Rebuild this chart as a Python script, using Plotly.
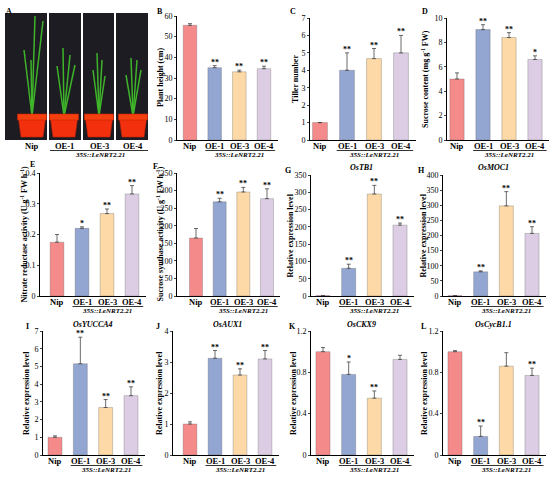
import plotly.graph_objects as go

W, H = 550, 477
FONT = "Liberation Serif"

genotypes = ["Nip", "OE-1", "OE-3", "OE-4"]
colors = ["#F58A8B", "#93A6D2", "#FCD9A6", "#DCCDE4"]
line_label = "<i>35S::LeNRT2.21</i>"

plant_height = [55.5, 35.0, 33.0, 34.5]
plant_height_err = [0.8, 1.0, 0.8, 1.2]
plant_height_sig = ["", "**", "**", "**"]

tiller = [1.0, 4.0, 4.67, 5.0]
tiller_err = [0.0, 1.0, 0.58, 1.0]
tiller_sig = ["", "**", "**", "**"]

sucrose = [5.0, 9.05, 8.4, 6.6]
sucrose_err = [0.5, 0.4, 0.4, 0.3]
sucrose_sig = ["", "**", "**", "*"]

nr_activity = [0.175, 0.22, 0.268, 0.332]
nr_activity_err = [0.025, 0.005, 0.015, 0.027]
nr_activity_sig = ["", "*", "**", "**"]

ss_activity = [165, 268, 296, 277]
ss_activity_err = [27, 10, 13, 28]
ss_activity_sig = ["", "**", "**", "**"]

ostb1 = [1, 80, 295, 205]
ostb1_err = [0.1, 12, 25, 6]
osmoc1 = [1, 80, 298, 207]
osmoc1_err = [0.1, 3, 47, 22]
osyucca4 = [1, 5.15, 2.68, 3.35]
osyucca4_err = [0.08, 1.5, 0.45, 0.5]
osaux1 = [1, 3.12, 2.58, 3.1]
osaux1_err = [0.07, 0.25, 0.2, 0.27]
osckx9 = [1, 0.78, 0.55, 0.925]
osckx9_err = [0.04, 0.12, 0.07, 0.04]
osckx9_sig = ["", "*", "**", ""]
oscycb = [1, 0.18, 0.86, 0.77]
oscycb_err = [0.01, 0.1, 0.13, 0.07]
oscycb_sig = ["", "**", "", "**"]
all_sig = ["", "**", "**", "**"]

SUP = "<sup>-1</sup>"
# letter, values, err, sig, ymax, dtick, ytitle, gene, (axis_px, nip_px, oe4_px, top_px, bottom_px), letter pos, title x
panels = [
    ("B", plant_height, plant_height_err, plant_height_sig, 60, 10, "Plant height (cm)", None,
     (177, 190, 264, 16, 140), (160, 12), 161),
    ("C", tiller, tiller_err, tiller_sig, 7, 1, "Tiller number", None,
     (310, 320, 401, 18, 140), (293, 12), 295),
    ("D", sucrose, sucrose_err, sucrose_sig, 10, 2, "Sucrose content (mg g" + SUP + " FW)", None,
     (447, 457, 535, 18, 140), (425, 12), 425),
    ("E", nr_activity, nr_activity_err, nr_activity_sig, 0.4, 0.1,
     "Nitrate reductase activity (U g" + SUP + " FW h" + SUP + ")", None,
     (40, 57, 132, 173, 296), (32, 164), 23),
    ("F", ss_activity, ss_activity_err, ss_activity_sig, 350, 50,
     "Sucrose synthase activity (U g" + SUP + " FW h" + SUP + ")", None,
     (177, 196, 267, 173, 296), (155, 166), 159),
    ("G", ostb1, ostb1_err, all_sig, 350, 50, "Relative expression level", "OsTB1",
     (311, 323, 400, 175, 296), (288, 170), 290),
    ("H", osmoc1, osmoc1_err, all_sig, 400, 50, "Relative expression level", "OsMOC1",
     (443, 455, 532, 175, 296), (422, 170), 423),
    ("I", osyucca4, osyucca4_err, all_sig, 7, 1, "Relative expression level", "OsYUCCA4",
     (43, 55, 131, 331, 455), (27, 326), 26),
    ("J", osaux1, osaux1_err, all_sig, 4, 1, "Relative expression level", "OsAUX1",
     (173, 190, 265, 331, 455), (158, 326), 159),
    ("K", osckx9, osckx9_err, osckx9_sig, 1.2, 0.4, "Relative expression level", "OsCKX9",
     (311, 323, 400, 331, 455), (292, 326), 293),
    ("L", oscycb, oscycb_err, oscycb_sig, 1.2, 0.4, "Relative expression level", "OsCycB1.1",
     (443, 455, 532, 331, 455), (423, 326), 424),
]


def px(x, y):
    return x / W, 1 - y / H


def label(x, y, text, size=8, xref="paper", yref="paper", angle=0):
    return dict(x=x, y=y, xref=xref, yref=yref, text=text, showarrow=False, textangle=angle,
                xanchor="center", yanchor="middle", font=dict(size=size, family=FONT))


fig = go.Figure()
layout = dict(width=W, height=H, margin=dict(l=0, r=0, t=0, b=0, autoexpand=False),
              paper_bgcolor="white", plot_bgcolor="white", showlegend=False,
              font=dict(family=FONT, color="black"))
annotations = []
shapes = []

for i, (letter, vals, err, sig, ymax, dtick, ytitle, gene, geo, lpos, tx) in enumerate(panels, start=1):
    axis_px, nip_px, oe4_px, top_px, bot_px = geo
    step = (oe4_px - nip_px) / 3
    r0 = -(nip_px - axis_px) / step
    r1 = 3.55
    right_px = axis_px + (r1 - r0) * step
    xa = "x" if i == 1 else f"x{i}"
    ya = "y" if i == 1 else f"y{i}"
    fig.add_trace(go.Bar(
        x=[0, 1, 2, 3], y=vals, width=0.55,
        marker=dict(color=colors, line=dict(color="rgba(90,90,90,0.6)", width=0.5)),
        error_y=dict(type="data", symmetric=False, array=err, arrayminus=[0] * 4,
                     color="#444", thickness=0.8, width=2),
        xaxis=xa, yaxis=ya, hoverinfo="skip"))
    layout["xaxis" if i == 1 else f"xaxis{i}"] = dict(
        domain=[axis_px / W, min(right_px / W, 1)], range=[r0, r1], anchor=ya,
        showticklabels=False, showline=True, linecolor="black",
        linewidth=1, ticks="", showgrid=False, zeroline=False)
    layout["yaxis" if i == 1 else f"yaxis{i}"] = dict(
        domain=[1 - bot_px / H, 1 - top_px / H], range=[0, ymax], dtick=dtick, tick0=0,
        anchor=xa, showline=True, linecolor="black", linewidth=1, ticks="outside",
        ticklen=2, tickwidth=1, showgrid=False, zeroline=False,
        tickfont=dict(family=FONT, size=8, color="black"))
    for k in range(4):
        annotations.append(label(k, 1 - (bot_px + 6) / H, f"<b>{genotypes[k]}</b>", size=8.5, xref=xa))
        if sig[k]:
            annotations.append(dict(x=k, y=vals[k] + err[k], xref=xa, yref=ya, text=f"<b>{sig[k]}</b>",
                                    showarrow=False, xanchor="center", yanchor="bottom", yshift=-3,
                                    font=dict(size=8, family=FONT)))
    # transgenic line bracket
    shapes.append(dict(type="line", xref=xa, yref="paper", x0=0.62, x1=3.45,
                       y0=1 - (bot_px + 10.5) / H, y1=1 - (bot_px + 10.5) / H,
                       line=dict(color="black", width=0.8)))
    annotations.append(label(2, 1 - (bot_px + 15) / H, f"<b>{line_label}</b>", size=7, xref=xa))
    annotations.append(label(*px(*lpos), f"<b>{letter}</b>"))
    annotations.append(label(tx / W, 1 - (top_px + bot_px) / 2 / H, f"<b>{ytitle}</b>", angle=-90))
    if gene:
        annotations.append(label(1.5, 1 - (top_px - 7) / H, f"<b><i>{gene}</i></b>", xref=xa))

# panel A: photograph stand-in
photo_cols = [(5, 47), (49, 81), (83, 114), (116, 148)]
pot_centers = [32, 64, 99, 133]
leaf_tips = [
    [(35, 16), (43, 21), (24, 50), (31, 60)],
    [(63, 48), (70, 55), (75, 65), (57, 66)],
    [(97, 53), (102, 60), (93, 70), (105, 76)],
    [(131, 58), (137, 60), (126, 75), (141, 70)],
]
for (x0, x1), pc, tips, name in zip(photo_cols, pot_centers, leaf_tips, genotypes):
    a0 = px(x0, 140)
    a1 = px(x1, 13)
    shapes.append(dict(type="rect", xref="paper", yref="paper", x0=a0[0], y0=a0[1], x1=a1[0], y1=a1[1],
                       fillcolor="#1c1c22", line=dict(width=0), layer="above"))
    for tx_, ty_ in tips:
        b = px(pc, 116)
        t = px(tx_, ty_)
        shapes.append(dict(type="line", xref="paper", yref="paper", x0=b[0], y0=b[1], x1=t[0], y1=t[1],
                           line=dict(color="#3fb42a", width=1.5), layer="above"))
    p = [px(pc - 14, 115), px(pc + 14, 115), px(pc + 11, 137), px(pc - 11, 137)]
    path = "M " + " L ".join(f"{a},{b}" for a, b in p) + " Z"
    shapes.append(dict(type="path", xref="paper", yref="paper", path=path,
                       fillcolor="#f2300e", line=dict(color="#c92408", width=0.6), layer="above"))
    rim = [px(pc - 14.5, 114), px(pc + 14.5, 120)]
    shapes.append(dict(type="rect", xref="paper", yref="paper", x0=rim[0][0], y0=rim[1][1],
                       x1=rim[1][0], y1=rim[0][1], fillcolor="#f4400f",
                       line=dict(color="#c92408", width=0.6), layer="above"))
    annotations.append(label(*px(pc, 146), f"<b>{name}</b>", size=8.5))
u0, u1 = px(50, 150.5), px(148, 150.5)
shapes.append(dict(type="line", xref="paper", yref="paper", x0=u0[0], x1=u1[0], y0=u0[1], y1=u1[1],
                   line=dict(color="black", width=0.8)))
annotations.append(label(*px(100, 155), f"<b>{line_label}</b>", size=7))
annotations.append(label(*px(9, 12), "<b>A</b>"))

layout["annotations"] = annotations
layout["shapes"] = shapes
fig.update_layout(**layout)
fig.write_html("out.html", config={"displayModeBar": False},
               post_script="document.body.style.margin='0';")
